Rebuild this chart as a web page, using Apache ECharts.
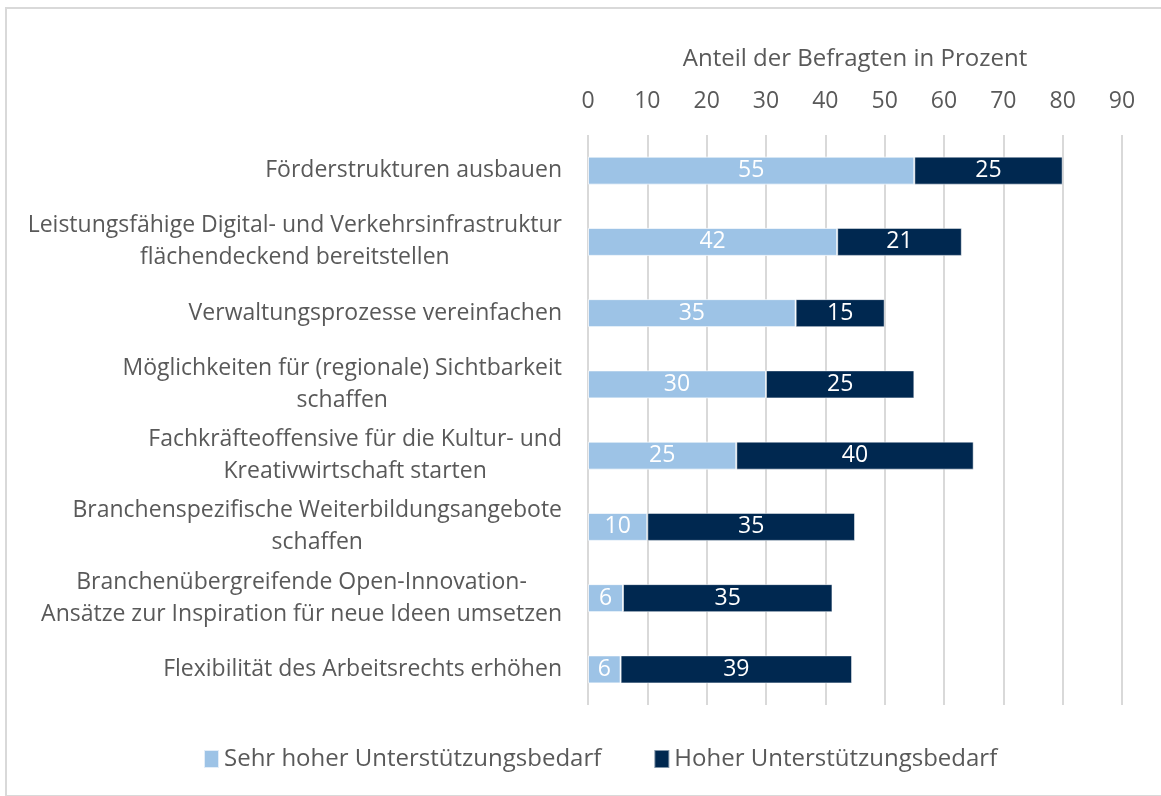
<!DOCTYPE html>
<html>
<head>
<meta charset="utf-8">
<script src="https://cdn.jsdelivr.net/npm/echarts@6/dist/echarts.min.js"></script>
<style>
  html, body { margin: 0; padding: 0; background: #fff; overflow: hidden; }
  #chart { width: 1161px; height: 796px; }
  #frame { position: absolute; left: 5px; top: 7px; width: 1170px; height: 786px; border: 2px solid #d9d9d9; pointer-events: none; }
</style>
</head>
<body>
<div id="chart"></div>
<div id="frame"></div>
<script>
const categories = [
  'Förderstrukturen ausbauen',
  'Leistungsfähige Digital- und Verkehrsinfrastruktur\nflächendeckend bereitstellen',
  'Verwaltungsprozesse vereinfachen',
  'Möglichkeiten für (regionale) Sichtbarkeit\nschaffen',
  'Fachkräfteoffensive für die Kultur- und\nKreativwirtschaft starten',
  'Branchenspezifische Weiterbildungsangebote\nschaffen',
  'Branchenübergreifende Open-Innovation-\nAnsätze zur Inspiration für neue Ideen umsetzen',
  'Flexibilität des Arbeitsrechts erhöhen'
]
const sehrHoch = [55, 42, 35, 30, 25, 10, 5.9, 5.5]
const hoch = [25, 21, 15, 25, 40, 35, 35.3, 39]
const seriesNames = ['Sehr hoher Unterstützungsbedarf', 'Hoher Unterstützungsbedarf']
const colors = ['#9dc3e6', '#002850']

const font = 'Open Sans'
const textColor = '#595959'

const dom = echarts.init(document.getElementById('chart'))
const barLabel = {
  show: true,
  position: 'inside',
  color: '#fff',
  fontFamily: font,
  fontSize: 23,
  formatter: p => Math.round(p.value)
}
const option = {
  color: colors,
  animation: false,
  textStyle: { fontFamily: font },
  grid: { left: 588, right: 39, top: 135, bottom: 91 },
  legend: {
    bottom: 20,
    left: 198,
    itemWidth: 15,
    itemHeight: 18,
    itemGap: 52,
    icon: 'rect',
    textStyle: { fontFamily: font, fontSize: 24, color: textColor },
    data: seriesNames
  },
  xAxis: {
    type: 'value',
    position: 'top',
    min: 0,
    max: 90,
    interval: 10,
    name: 'Anteil der Befragten in Prozent',
    nameLocation: 'middle',
    nameGap: 64,
    nameTextStyle: { fontFamily: font, fontSize: 24, color: textColor },
    axisLine: { show: false },
    axisTick: { show: false },
    axisLabel: { fontFamily: font, fontSize: 23, color: textColor, margin: 22 },
    splitLine: { lineStyle: { color: '#d9d9d9', width: 2 } }
  },
  yAxis: {
    type: 'category',
    inverse: true,
    data: categories,
    axisLine: { show: false },
    axisTick: { show: false },
    axisLabel: {
      margin: 26,
      formatter: v => v.split('\n').map(s => '{c|' + s + '}').join('\n'),
      rich: {
        c: { align: 'center', fontFamily: font, fontSize: 23, color: textColor, lineHeight: 32 }
      }
    }
  },
  series: [
    {
      name: seriesNames[0],
      type: 'bar',
      stack: 'total',
      barWidth: 28,
      data: sehrHoch,
      label: barLabel,
      itemStyle: { borderColor: 'rgba(255,255,255,0.7)', borderWidth: 1 }
    },
    {
      name: seriesNames[1],
      type: 'bar',
      stack: 'total',
      barWidth: 28,
      data: hoch,
      label: barLabel,
      itemStyle: { borderColor: 'rgba(255,255,255,0.5)', borderWidth: 1 }
    }
  ]
}
dom.setOption(option)
</script>
</body>
</html>
